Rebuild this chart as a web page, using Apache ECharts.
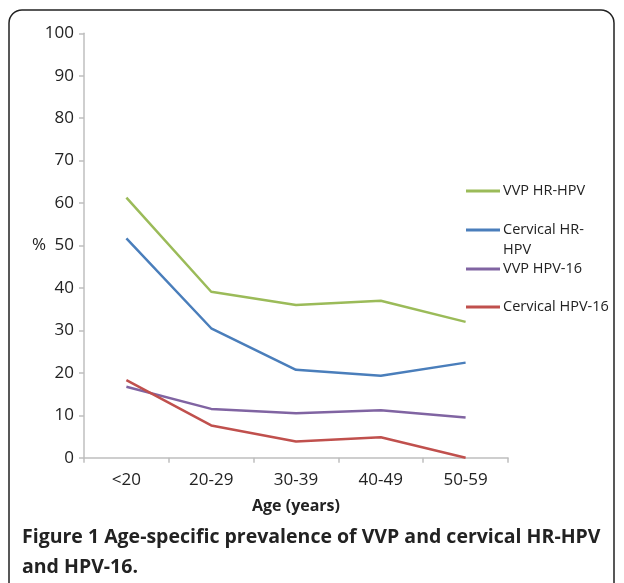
<!DOCTYPE html>
<html><head><meta charset="utf-8">
<script src="https://cdn.jsdelivr.net/npm/echarts@6/dist/echarts.min.js"></script>
<style>html,body{margin:0;padding:0;background:#fff}#c{width:624px;height:583px}</style>
</head><body><div id="c"></div>
<script>
var categories = ['<20', '20-29', '30-39', '40-49', '50-59'];
var vvpHR = [61.3, 39.1, 36.0, 37.0, 32.0];
var cervHR = [51.7, 30.5, 20.7, 19.3, 22.4];
var vvp16 = [16.7, 11.5, 10.5, 11.2, 9.5];
var cerv16 = [18.3, 7.6, 3.8, 4.8, 0];
var yTicks = [0, 10, 20, 30, 40, 50, 60, 70, 80, 90, 100];
var seriesNames = ['VVP HR-HPV', 'Cervical HR-HPV', 'VVP HPV-16', 'Cervical HPV-16'];
var colors = ['#9BBB59', '#4A7EBB', '#8064A2', '#C0504D'];

var FONT = '"Open Sans", "Noto Sans", sans-serif';
var chart = echarts.init(document.getElementById('c'), null, {renderer: 'canvas'});
var dataSets = [vvpHR, cervHR, vvp16, cerv16];
var legendTops = [183.5, 222.5, 261.5, 299.5];
var legends = seriesNames.map(function (n, i) {
  return {
    data: [n], left: 466, top: legendTops[i], padding: 0, itemWidth: 34, itemHeight: 16, itemGap: 0,
    icon: 'path://M0,6.5 L34,6.5 L34,9.5 L0,9.5 Z',
    textStyle: {fontFamily: FONT, fontSize: 14.5, color: '#222', padding: [0, 0, 0, -2]},
    formatter: i === 1 ? function () { return 'Cervical HR-'; } : undefined,
    selectedMode: false
  };
});
chart.setOption({
  animation: false,
  color: colors,
  legend: legends,
  grid: {left: 84, right: 116, top: 33.3, bottom: 125.3, containLabel: false},
  xAxis: {
    type: 'category', data: categories, boundaryGap: true,
    name: 'Age (years)', nameLocation: 'middle', nameGap: 41,
    nameTextStyle: {fontFamily: FONT, fontSize: 16, fontWeight: 'bold', color: '#222'},
    axisLine: {lineStyle: {color: '#BFBFBF', width: 1.5}},
    axisTick: {show: true, length: 5, lineStyle: {color: '#BFBFBF', width: 1.5}},
    axisLabel: {fontFamily: FONT, fontSize: 17, color: '#222', margin: 14}
  },
  yAxis: {
    type: 'value', min: 0, max: 100, interval: 10,
    name: '%', nameLocation: 'middle', nameRotate: 0, nameGap: 38, nameMoveOverlap: false,
    nameTextStyle: {fontFamily: FONT, fontSize: 17, color: '#222'},
    axisLine: {show: true, lineStyle: {color: '#BFBFBF', width: 1.5}},
    axisTick: {show: true, length: 5, lineStyle: {color: '#BFBFBF', width: 1.5}},
    splitLine: {show: false},
    axisLabel: {fontFamily: FONT, fontSize: 17, color: '#222', margin: 10,
      formatter: function (v) { return yTicks.indexOf(v) >= 0 ? String(v) : ''; }}
  },
  series: dataSets.map(function (d, i) {
    return {name: seriesNames[i], type: 'line', data: d, symbol: 'none',
      lineStyle: {width: 2.5, color: colors[i]}, itemStyle: {color: colors[i]}};
  }),
  graphic: [
    {type: 'rect', shape: {x: 9, y: 10, width: 605, height: 590, r: 13},
      style: {fill: 'none', stroke: '#222', lineWidth: 1.5}, z: 100},
    {type: 'text', left: 503, top: 242, style: {
      text: 'HPV', font: '14.5px ' + FONT, fill: '#222'}},
    {type: 'text', left: 22, top: 522, style: {
      text: 'Figure 1 Age-specific prevalence of VVP and cervical HR-HPV\nand HPV-16.',
      font: 'bold 19.5px ' + FONT, fill: '#222', lineHeight: 30
    }}
  ]
});
</script></body></html>
